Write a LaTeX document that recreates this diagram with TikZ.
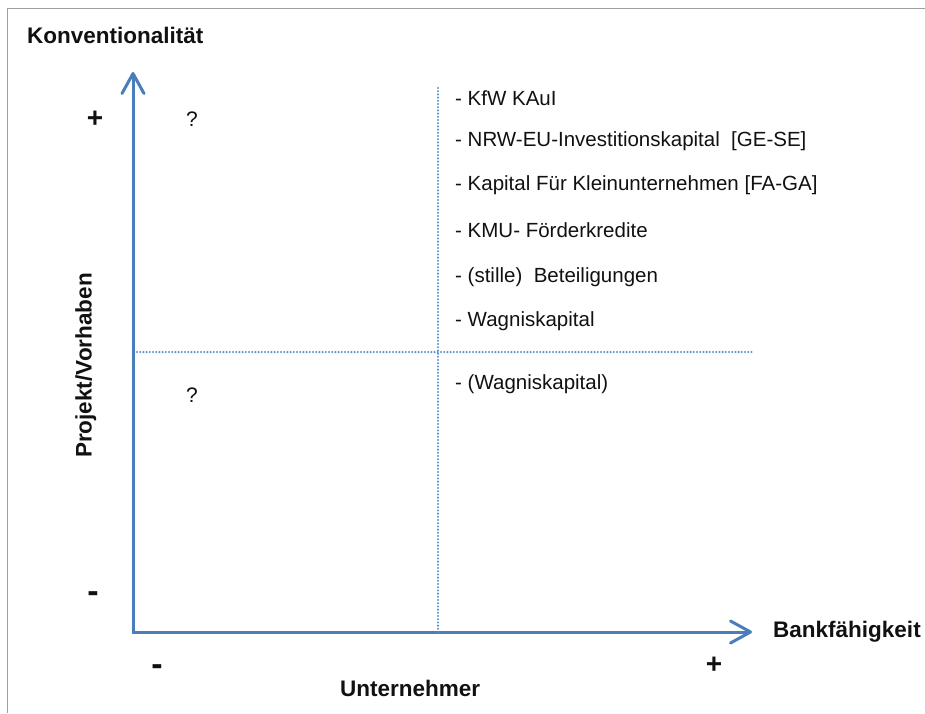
\documentclass[tikz,border=0pt]{standalone}
\usepackage{fontspec}
\setmainfont{Liberation Sans}
\usetikzlibrary{arrows.meta}
\definecolor{axisblue}{HTML}{4A7EBB}
\definecolor{dotblue}{HTML}{5B8ED2}
\definecolor{framegray}{HTML}{A0A0A0}
\definecolor{txt}{HTML}{111111}
\begin{document}
\begin{tikzpicture}[x=1pt,y=-1pt,
  axisline/.style={draw=axisblue, line width=3pt, line join=miter,
    arrows={Straight Barb[length=20pt,width=22pt,round]-Straight Barb[length=20pt,width=22pt,round]}},
  dotline/.style={draw=dotblue, line width=2.3pt, line cap=round, dash pattern=on 0pt off 3.2pt},
  framestyle/.style={draw=framegray, line width=1.5pt},
  item/.style={inner sep=0pt, anchor=base west, text=txt, font=\fontsize{20.5}{24}\selectfont},
  axlabel/.style={inner sep=0pt, anchor=base west, text=txt, font=\bfseries\fontsize{22.5}{26}\selectfont},
  sign/.style={inner sep=0pt, text=txt, font=\bfseries\fontsize{28}{30}\selectfont},
  minussign/.style={inner sep=0pt, text=txt, font=\bfseries\fontsize{34}{36}\selectfont},
  qmark/.style={inner sep=0pt, text=txt, font=\fontsize{21}{24}\selectfont}]
\useasboundingbox (0,0) rectangle (925,713);
% frame
\coordinate (fbl) at (7.5,713);
\coordinate (ftl) at (7.5,8.5);
\coordinate (ftr) at (925,8.5);
\draw[framestyle] (fbl) -- (ftl) -- (ftr);
% axes
\coordinate (O) at (133,632);
\coordinate (ytip) at (133,72);
\coordinate (xtip) at (752,632);
\draw[axisline] (ytip) -- (O) -- (xtip);
% dotted quadrant lines
\coordinate (vtop) at (438,88);
\coordinate (vbot) at (438,632);
\coordinate (hl) at (137,352);
\coordinate (hr) at (752,352);
\draw[dotline] (vtop) -- (vbot);
\draw[dotline] (hl) -- (hr);
% axis labels
\node[axlabel] (konv) at (27,43.3) {Konventionalität};
\node[axlabel] (bank) at (773,637) {Bankfähigkeit};
\node[axlabel] (unt) at (340,696) {Unternehmer};
\node[axlabel, rotate=90] (proj) at (91.5,458) {Projekt/Vorhaben};
% signs
\node[sign] (yplus) at (95,119) {+};
\node[minussign] (yminus) at (93,597) {-};
\node[minussign] (xminus) at (157,670.5) {-};
\node[sign] (xplus) at (714,665) {+};
% question marks
\node[qmark] (q1) at (192,119) {?};
\node[qmark] (q2) at (192,395) {?};
% list
\node[item] (i1) at (455,105) {- KfW KAuI};
\node[item] (i2) at (455,146.7) {- NRW-EU-Investitionskapital\ \ [GE-SE]};
\node[item] (i3) at (455,190) {- Kapital Für Kleinunternehmen [FA-GA]};
\node[item] (i4) at (455,237.3) {- KMU-\ Förderkredite};
\node[item] (i5) at (455,282.3) {- (stille)\ \ Beteiligungen};
\node[item] (i6) at (455,326.7) {- Wagniskapital};
\node[item] (i7) at (455,389) {- (Wagniskapital)};
\end{tikzpicture}
\end{document}
